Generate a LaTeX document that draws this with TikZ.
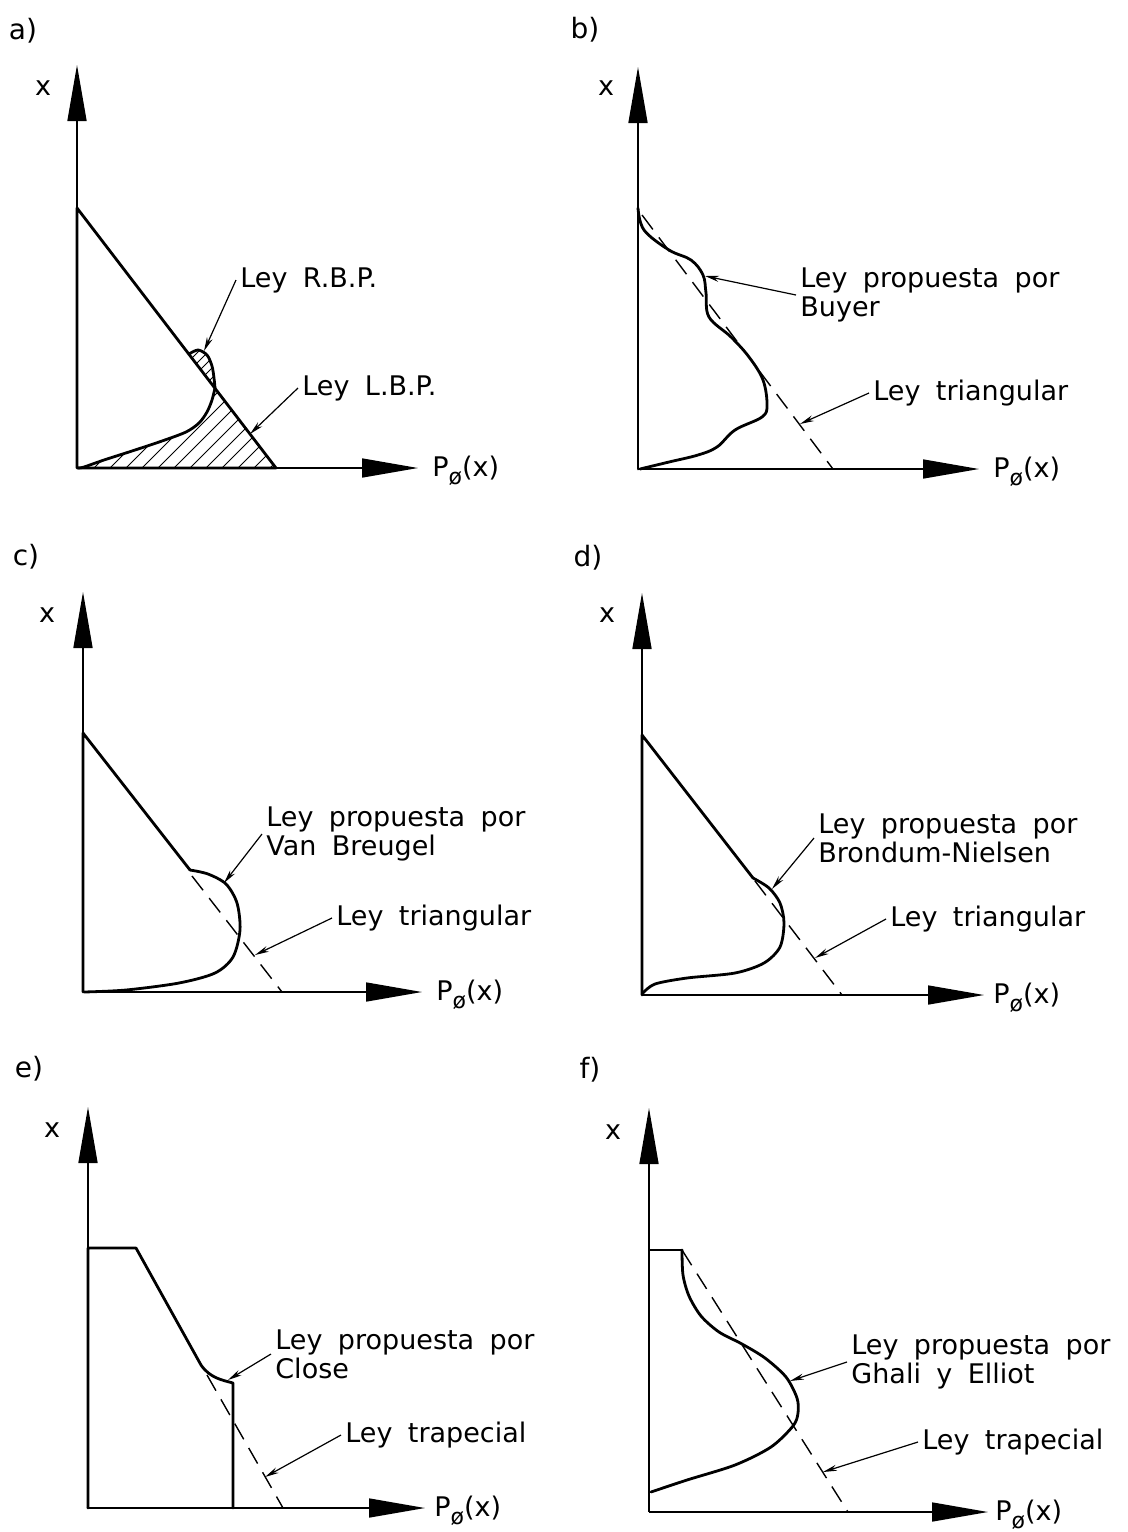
\documentclass[tikz,border=0pt]{standalone}
\usepackage{fontspec}
\setmainfont[WordSpace=1.8]{DejaVu Sans}
\usetikzlibrary{arrows.meta}
\newcommand{\PofX}{P\raisebox{-0.55ex}{\fontsize{11}{12}\selectfont ø}(x)}
\tikzset{
    axis/.style={line width=0.8pt, -{Triangle[length=28pt,width=9.5pt]}},
    law/.style={line width=1.4pt, line join=round, line cap=round},
    refline/.style={line width=0.7pt, dash pattern=on 9pt off 5pt},
    leader/.style={line width=0.6pt, -{Stealth[length=7pt,width=3pt]}},
    hatch/.style={line width=0.5pt},
    lbl/.style={font=\fontsize{13.5}{14.5}\selectfont, anchor=west, align=left, inner sep=2pt},
    axlbl/.style={font=\fontsize{13.5}{14.5}\selectfont, inner sep=0pt},
    tag/.style={font=\fontsize{14}{16}\selectfont, inner sep=0pt}
}
\begin{document}
\begin{tikzpicture}[x=0.5pt, y=-0.5pt]
  \useasboundingbox (0,0) rectangle (1128,1532);

  % a)
  \node[tag] (tagA) at (23,31) {a)};
  \node[axlbl] (xA) at (43,88) {x};
  \node[axlbl, anchor=west] (pA) at (432,471) {\PofX};
  \draw[axis] (77,468) -- (77,65);
  \draw[axis] (77,468) -- (418,468);
  \begin{scope}
    \clip plot[smooth] coordinates {(215,388) (212,400) (207,412) (199,423) (186,432) (162,441) (132,451) (104,460) (84,467) (78,468)} -- (276,468) -- cycle;
    \foreach \h in {60,76,...,300} \draw[hatch] (\h,470) -- ++(150,-150);
  \end{scope}
  \begin{scope}
    \clip plot[smooth] coordinates {(189,354) (198,350) (207,355) (212,366) (214,378) (215,388)} -- cycle;
    \foreach \h in {150,160,...,230} \draw[hatch] (\h,400) -- ++(60,-60);
  \end{scope}
  \draw[law] (77,468) -- (77,208) -- (276,468) -- cycle;
  \draw[law] plot[smooth] coordinates {(189,354) (198,350) (207,355) (212,366) (214,378) (215,388)};
  \draw[law] plot[smooth] coordinates {(215,388) (212,400) (207,412) (199,423) (186,432) (162,441) (132,451) (104,460) (84,467) (78,468)};
  \coordinate (rbp) at (204,351);
  \coordinate (lbp) at (250,434);
  \node[lbl] (labRBP) at (236,280) {Ley R.B.P.};
  \node[lbl] (labLBP) at (298,388) {Ley L.B.P.};
  \draw[leader] (labRBP.west) -- (rbp);
  \draw[leader] (labLBP.west) -- (lbp);

  % b)
  \node[tag] (tagB) at (585,30) {b)};
  \node[axlbl] (xB) at (606,88) {x};
  \node[axlbl, anchor=west] (pB) at (993,472) {\PofX};
  \draw[axis] (638,469) -- (638,67);
  \draw[axis] (638,469) -- (979,469);
  \draw[refline] (642,215) -- (833,469);
  \draw[law] (638,469) -- (638,208);
  \draw[law] plot[smooth, tension=0.6] coordinates {(638,208) (644,230) (669,250) (691,260) (703,275) (706,293) (709,317) (731,337) (749,357) (763,380) (767,405) (762,417) (735,430) (717,447) (698,455) (669,462) (640,469)};
  \coordinate (buyer) at (705,276);
  \coordinate (triB) at (800,424);
  \node[lbl] (labBuyer) at (796,295) {Ley propuesta por\\Buyer};
  \node[lbl] (labTriB) at (869,393) {Ley triangular};
  \draw[leader] (labBuyer.west) -- (buyer);
  \draw[leader] (labTriB.west) -- (triB);

  % c)
  \node[tag] (tagC) at (26,557) {c)};
  \node[axlbl] (xC) at (47,615) {x};
  \node[axlbl, anchor=west] (pC) at (436,995) {\PofX};
  \draw[axis] (83,992) -- (83,592);
  \draw[axis] (83,992) -- (422,992);
  \draw[refline] (192,876) -- (282,992);
  \draw[law] (83,992) -- (83,733) -- (190,870);
  \draw[law] plot[smooth] coordinates {(190,870) (208,874) (226,884) (237,903) (240,930) (233,957) (215,973) (179,983) (126,990) (84,992)};
  \coordinate (breugel) at (224,883);
  \coordinate (triC) at (255,955);
  \node[lbl] (labBreugel) at (262,834) {Ley propuesta por\\Van Breugel};
  \node[lbl] (labTriC) at (332,918) {Ley triangular};
  \draw[leader] (labBreugel.west) -- (breugel);
  \draw[leader] (labTriC.west) -- (triC);

  % d)
  \node[tag] (tagD) at (588,558) {d)};
  \node[axlbl] (xD) at (607,615) {x};
  \node[axlbl, anchor=west] (pD) at (993,998) {\PofX};
  \draw[axis] (642,995) -- (642,593);
  \draw[axis] (642,995) -- (984,995);
  \draw[refline] (755,881) -- (842,995);
  \draw[law] (642,995) -- (642,735) -- (753,878);
  \draw[law] plot[smooth] coordinates {(753,878) (769,888) (780,903) (784,923) (780,947) (764,963) (735,973) (687,978) (655,984) (643,993)};
  \coordinate (nielsen) at (772,889);
  \coordinate (triD) at (815,958);
  \node[lbl] (labNielsen) at (814,838) {Ley propuesta por\\Brondum-Nielsen};
  \node[lbl] (labTriD) at (886,919) {Ley triangular};
  \draw[leader] (labNielsen.west) -- (nielsen);
  \draw[leader] (labTriD.west) -- (triD);

  % e)
  \node[tag] (tagE) at (29,1069) {e)};
  \node[axlbl] (xE) at (52,1130) {x};
  \node[axlbl, anchor=west] (pE) at (434,1511) {\PofX};
  \draw[axis] (88,1508) -- (88,1107);
  \draw[axis] (88,1508) -- (425,1508);
  \draw[refline] (207,1375) -- (283,1508);
  \draw[law] (88,1508) -- (88,1248) -- (136,1248) -- (201,1365) .. controls (210,1378) and (222,1380) .. (233,1383) -- (233,1508);
  \draw[law] (88,1508) -- (233,1508);
  \coordinate (close) at (228,1380);
  \coordinate (trapE) at (265,1477);
  \node[lbl] (labClose) at (271,1354) {Ley propuesta por\\Close};
  \node[lbl] (labTrapE) at (341,1435) {Ley trapecial};
  \draw[leader] (labClose.west) -- (close);
  \draw[leader] (labTrapE.west) -- (trapE);

  % f)
  \node[tag] (tagF) at (590,1070) {f)};
  \node[axlbl] (xF) at (613,1132) {x};
  \node[axlbl, anchor=west] (pF) at (995,1515) {\PofX};
  \draw[axis] (649,1512) -- (649,1108);
  \draw[axis] (649,1512) -- (988,1512);
  \draw[refline] (682,1250) -- (848,1512);
  \draw[law] (649,1492) -- (649,1250) -- (682,1250);
  \draw[law] plot[smooth] coordinates {(682,1250) (683,1275) (689,1296) (701,1316) (719,1332) (742,1344) (765,1358) (786,1377) (797,1398) (798,1413) (793,1426) (771,1447) (735,1465) (687,1480) (651,1492)};
  \coordinate (ghali) at (790,1381);
  \coordinate (trapF) at (823,1472);
  \node[lbl] (labGhali) at (847,1362) {Ley propuesta por\\Ghali y Elliot};
  \node[lbl] (labTrapF) at (918,1442) {Ley trapecial};
  \draw[leader] (labGhali.west) -- (ghali);
  \draw[leader] (labTrapF.west) -- (trapF);
\end{tikzpicture}
\end{document}
